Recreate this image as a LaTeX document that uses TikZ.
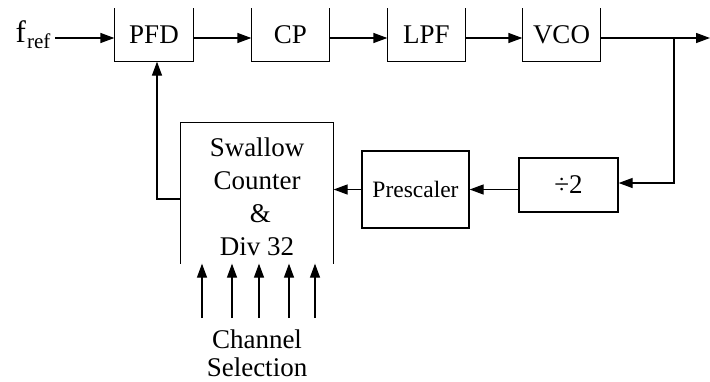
\documentclass[tikz,border=0pt]{standalone}
\usepackage{fontspec}
\setmainfont{Liberation Serif}
\usetikzlibrary{arrows.meta}
\begin{document}
\begin{tikzpicture}[x=1pt,y=-1pt,line width=1.3pt,
  blk/.style={inner sep=0pt,font=\fontsize{27}{32}\selectfont},
  arr/.style={-{Triangle[length=14pt,width=10pt]}},
  ln/.style={line width=1.3pt}]
\useasboundingbox (0,0) rectangle (710,381);
% top row blocks (open top)
\node[blk,minimum width=78pt,minimum height=52pt] (pfd) at (154,35) {PFD};
\node[blk,minimum width=77pt,minimum height=52pt] (cp)  at (290.5,35) {CP};
\node[blk,minimum width=77pt,minimum height=52pt] (lpf) at (426.5,35) {LPF};
\node[blk,minimum width=77pt,minimum height=52pt] (vco) at (561.5,35) {VCO};
\foreach \n in {pfd,cp,lpf,vco}
  \draw[ln] (\n.north west) -- (\n.south west) -- (\n.south east) -- (\n.north east);
% feedback blocks
\node[blk,draw,minimum width=99pt,minimum height=54pt] (div) at (568.5,185) {÷2};
\node[blk,draw,minimum width=107pt,minimum height=77pt,font=\fontsize{23.5}{28}\selectfont] (pre) at (415.5,189.5) {Prescaler};
\node[blk,minimum width=152pt,minimum height=140pt] (sw) at (257,193) {};
\draw[ln] (sw.south west) -- (sw.north west) -- (sw.north east) -- (sw.south east);
\node[blk,align=center,font=\fontsize{27}{33}\selectfont] (swt) at (257,197) {Swallow\\Counter\\\ \&\\Div 32};
% reference input
\node[blk,anchor=east,font=\fontsize{31}{32}\selectfont] (fref) at (51,35) {f\kern1pt\raisebox{-6pt}{\fontsize{21}{21}\selectfont ref}};
\coordinate (frefend) at (55,38);
\draw[arr] (frefend) -- ([yshift=-3pt]pfd.west);
\draw[arr] ([yshift=-3pt]pfd.east) -- ([yshift=-3pt]cp.west);
\draw[arr] ([yshift=-3pt]cp.east) -- ([yshift=-3pt]lpf.west);
\draw[arr] ([yshift=-3pt]lpf.east) -- ([yshift=-3pt]vco.west);
\coordinate (br) at (674,38);
\coordinate (out) at (710,38);
\draw[arr] ([yshift=-3pt]vco.east) -- (out);
\draw[arr] (br) |- ([yshift=2pt]div.east);
\draw[arr] (pre.east -| div.west) -- (pre.east);
\draw[arr] (pre.west) -- (pre.west -| sw.east);
\draw[arr] ([yshift=-6pt]sw.west) -| ([xshift=3pt]pfd.south);
% channel selection
\foreach \i/\x in {1/202,2/232,3/259,4/289,5/315}{
  \coordinate (c\i) at (\x,318);
  \draw[arr] (c\i) -- (c\i |- sw.south);
}
\node[blk,align=center,font=\fontsize{27}{28}\selectfont] (ch) at (257,353) {Channel\\Selection};
\end{tikzpicture}
\end{document}
